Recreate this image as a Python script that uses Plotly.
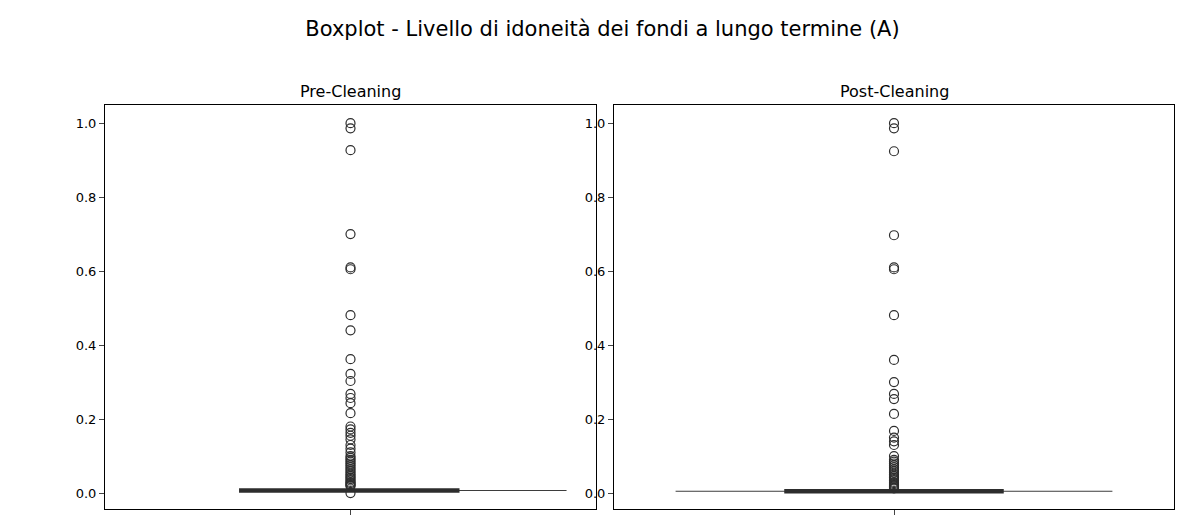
import plotly.graph_objects as go
from plotly.subplots import make_subplots

titoli = ['Pre-Cleaning', 'Post-Cleaning']

# mediana e quartili (box schiacciato)
mediana = [0.007, 0.005]
box_pre = [-0.227, 0.222]
box_post = [-0.196, 0.196]

outlier_pre = [1.0, 0.986, 0.927, 0.70, 0.61, 0.605, 0.481, 0.44, 0.362, 0.322, 0.303,
               0.268, 0.257, 0.243, 0.216, 0.18, 0.172, 0.163, 0.155, 0.145, 0.13, 0.12,
               0.11, 0.1, 0.095, 0.09, 0.085, 0.08, 0.075, 0.07, 0.065, 0.06, 0.055, 0.05,
               0.046, 0.042, 0.038, 0.034, 0.03, 0.027, 0.024, 0.021, 0.019, 0.0]
outlier_post = [1.0, 0.986, 0.924, 0.697, 0.61, 0.605, 0.481, 0.36, 0.30, 0.268, 0.254,
                0.214, 0.168, 0.15, 0.14, 0.13, 0.1, 0.09, 0.085, 0.08, 0.075, 0.07, 0.065,
                0.06, 0.055, 0.05, 0.046, 0.042, 0.038, 0.034, 0.03, 0.027, 0.024, 0.021,
                0.018, 0.015, 0.013]

# linee sottili orizzontali (estremi x)
linea_pre = [-0.222, 0.44]
linea_post = [-0.39, 0.39]

W, H = 1189, 517
fig = make_subplots(rows=1, cols=2, subplot_titles=titoli)

for i, (bx, out, lin) in enumerate([(box_pre, outlier_pre, linea_pre),
                                     (box_post, outlier_post, linea_post)]):
    col = i + 1
    m = mediana[i]
    fig.add_trace(go.Scatter(x=lin, y=[m, m], mode='lines',
                             line=dict(color='#3d3d3d', width=1.2), showlegend=False), row=1, col=col)
    fig.add_trace(go.Scatter(x=bx, y=[m, m], mode='lines',
                             line=dict(color='#2d2d2d', width=4.5), showlegend=False), row=1, col=col)
    fig.add_trace(go.Scatter(x=[0] * len(out), y=out, mode='markers',
                             marker=dict(size=9, color='rgba(0,0,0,0)',
                                         line=dict(color='#2d2d2d', width=1.2)),
                             showlegend=False), row=1, col=col)
    fig.update_xaxes(range=[-0.5, 0.5], tickvals=[0], ticktext=[''], ticks='outside',
                     showgrid=False, zeroline=False, showline=True, mirror=True,
                     linecolor='black', row=1, col=col)
    fig.update_yaxes(range=[-0.043, 1.049], tickvals=[0, 0.2, 0.4, 0.6, 0.8, 1.0],
                     tickformat='.1f', ticks='outside', showgrid=False, zeroline=False,
                     showline=True, mirror=True, linecolor='black', automargin=False,
                     row=1, col=col)

fig.update_layout(
    xaxis=dict(domain=[97 / W, 588 / W], automargin=False),
    xaxis2=dict(domain=[606 / W, 1166 / W], automargin=False),
    yaxis=dict(domain=[16 / H, 420 / H]),
    yaxis2=dict(domain=[16 / H, 420 / H]),
)
for a in fig.layout.annotations:
    a.font = dict(size=16, color='black')
    a.y = 420 / H
    a.yshift = 2
fig.layout.annotations[0].x = (97 + 588) / 2 / W
fig.layout.annotations[1].x = (606 + 1166) / 2 / W

fig.update_layout(
    title=dict(text='Boxplot - Livello di idoneità dei fondi a lungo termine (A)',
               x=0.5, xanchor='center', y=1 - 21 / H, yanchor='middle',
               font=dict(size=21, color='black')),
    font=dict(family='DejaVu Sans', size=13, color='black'),
    plot_bgcolor='white', paper_bgcolor='white',
    width=W, height=H,
    margin=dict(l=0, r=0, t=0, b=0),
)

fig.write_html('out.html')
